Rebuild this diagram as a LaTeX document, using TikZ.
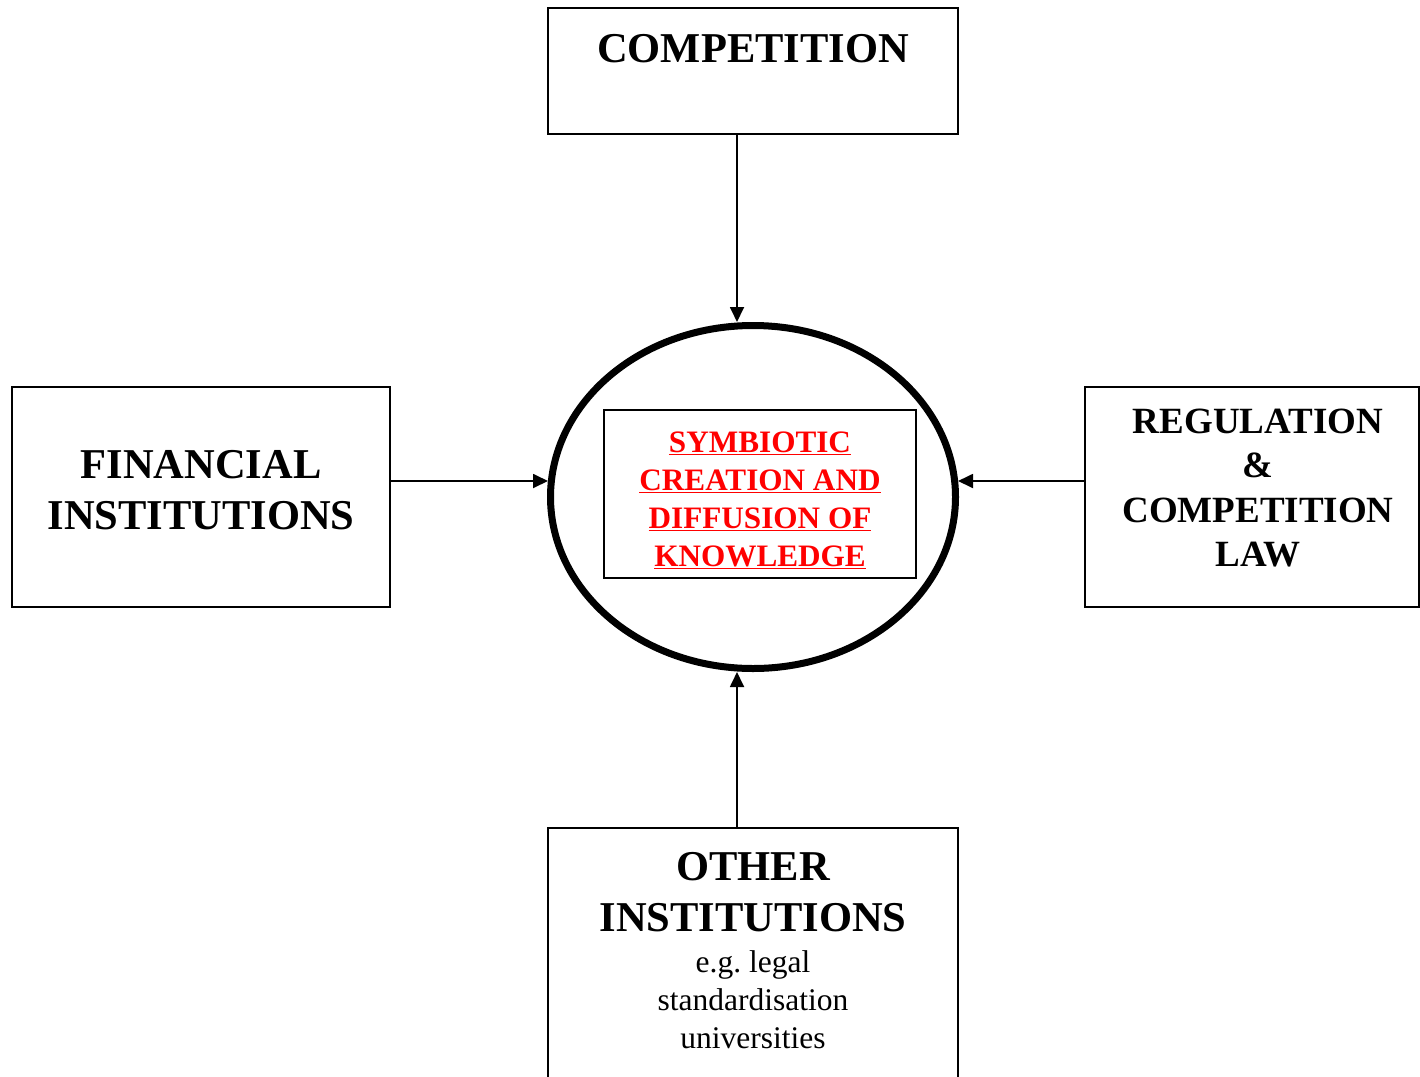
\documentclass[tikz,border=0pt]{standalone}
\usepackage{fontspec}
\setmainfont{Liberation Serif}
\usetikzlibrary{shapes.geometric,arrows.meta}
\begin{document}
\begin{tikzpicture}[x=1pt,y=-1pt,
  box/.style={draw, line width=1.8pt, inner sep=0pt, outer sep=0pt},
  big/.style={anchor=base, inner sep=0pt, font=\fontsize{42.5}{50}\selectfont\bfseries},
  mid/.style={anchor=base, inner sep=0pt, font=\fontsize{37}{44}\selectfont\bfseries},
  small/.style={anchor=base, inner sep=0pt, font=\fontsize{31.5}{38}\selectfont},
  redtxt/.style={anchor=base, inner sep=0pt, text=red, font=\fontsize{31.2}{38}\selectfont\bfseries},
  arr/.style={-{Triangle[length=15pt,width=14pt]}, line width=1.8pt}
]
\path[use as bounding box] (0,0) rectangle (1420,1076);
\clip (0,0) rectangle (1420,1076);

% boxes
\node[box, minimum width=410pt, minimum height=126pt] (top) at (753,71) {};
\node[box, minimum width=378pt, minimum height=220pt] (fin) at (201,497) {};
\node[box, minimum width=334pt, minimum height=220pt] (reg) at (1252,497) {};
\node[box, minimum width=410pt, minimum height=272pt] (oth) at (753,964) {};

% central ellipse
\node[draw, ellipse, line width=7pt, minimum width=405pt, minimum height=343pt, inner sep=0pt] (ell) at (753,497) {};
\node[draw, line width=2.2pt, minimum width=312pt, minimum height=168pt, inner sep=0pt, outer sep=0pt] (inner) at (760,494) {};

% texts
\node[big] (t1) at (753,62) {COMPETITION};

\node[big] (f1) at (201,478) {FINANCIAL};
\node[big] (f2) at (201,529) {INSTITUTIONS};

\node[mid] (r1) at (1258,433) {REGULATION};
\node[mid] (r2) at (1258,477) {\&};
\node[mid] (r3) at (1258,522) {COMPETITION};
\node[mid] (r4) at (1258,566) {LAW};

\node[big] (o1) at (753,880) {OTHER};
\node[big] (o2) at (753,931) {INSTITUTIONS};
\node[small] (o3) at (753,972) {e.g.\ legal};
\node[small] (o4) at (753,1010) {standardisation};
\node[small] (o5) at (753,1048) {universities};

\node[redtxt] (s1) at (760,452) {\underline{SYMBIOTIC}};
\node[redtxt] (s2) at (760,490) {\underline{CREATION AND}};
\node[redtxt] (s3) at (760,528) {\underline{DIFFUSION OF}};
\node[redtxt] (s4) at (760,566) {\underline{KNOWLEDGE}};

% connectors
\coordinate (a1) at ([xshift=-16pt]top.south);
\coordinate (a4) at ([xshift=-16pt]oth.north);
\coordinate (a2) at ([yshift=16pt]fin.east);
\coordinate (a3) at ([yshift=16pt]reg.west);
\draw[arr] (a1) -- (a1 |- ell.north);
\draw[arr] (a4) -- (a4 |- ell.south);
\draw[arr] (a2) -- ([xshift=1pt]a2 -| ell.west);
\draw[arr] (a3) -- ([xshift=-1pt]a3 -| ell.east);
\end{tikzpicture}
\end{document}
